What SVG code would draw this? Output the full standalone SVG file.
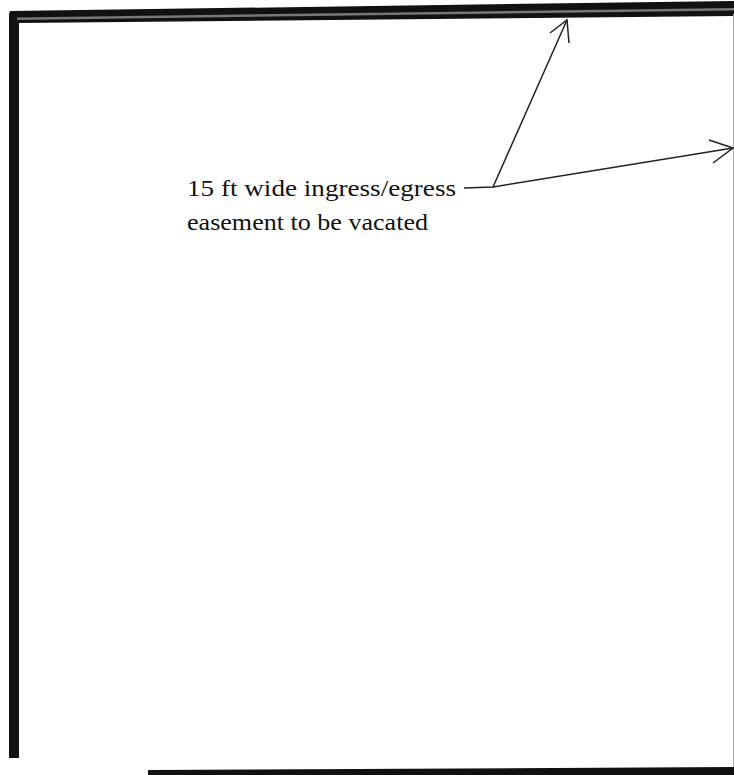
<svg xmlns="http://www.w3.org/2000/svg" width="734" height="775" viewBox="0 0 734 775">
<style>
.lbl{font-family:"Liberation Serif","Times New Roman",serif;font-size:24px;fill:#111}
.ln{stroke:#222;stroke-width:1.5;fill:none}
</style>
<rect width="734" height="775" fill="#fff"/>
<g id="frame">
<polygon points="10,11 734,1 734,16 19,23 19,758 9,758 9,14" fill="#111"/>
<polygon points="17,17.5 734,8 734,10.5 17,20" fill="#777"/>
<line x1="733.5" y1="14" x2="733.5" y2="770" stroke="#aaa" stroke-width="1"/>
<polygon points="148,770 734,767 734,775 148,775" fill="#111"/>
</g>
<g id="label">
<text class="lbl" x="187" y="196" textLength="269" lengthAdjust="spacingAndGlyphs">15 ft wide ingress/egress</text>
<text class="lbl" x="187" y="230" textLength="241" lengthAdjust="spacingAndGlyphs">easement to be vacated</text>
</g>
<g id="connectors">
<path class="ln" d="M464,188 L493,187 L567,20"/>
<path class="ln" d="M550,33 L567,20 L569,43"/>
<path class="ln" d="M493,187 L733,148"/>
<path class="ln" d="M709,140 L733,148 L713,163"/>
</g>
</svg>
